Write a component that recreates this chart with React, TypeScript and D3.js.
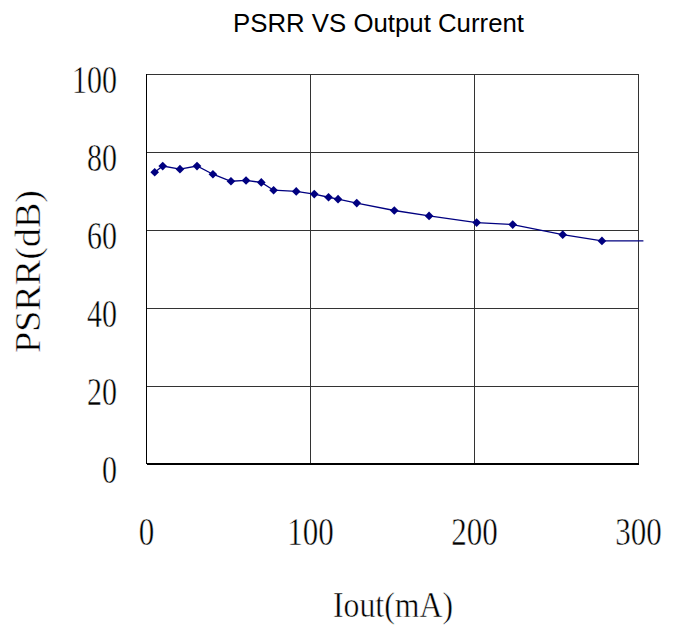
import React from 'react';
import * as d3 from 'd3';

// measured points (Iout in mA, PSRR in dB); the last one is the trace end, drawn without marker
const iout = [5, 9.9, 20.4, 30.8, 40.5, 51.5, 60.7, 70, 77.5, 91.3, 102.3, 111, 116.8, 128.2, 151.1, 172.3, 201.3, 223.3, 253.8, 277.7, 303];
const psrr = [74.8, 76.4, 75.6, 76.4, 74.3, 72.5, 72.7, 72.2, 70.2, 69.9, 69.2, 68.4, 67.9, 66.9, 65.0, 63.6, 61.9, 61.4, 58.8, 57.2, 57.2];
const xTicks = [0, 100, 200, 300];
const yTicks = [0, 20, 40, 60, 80, 100];

const title = 'PSRR VS Output Current';
const xTitle = 'Iout(mA)';
const yTitle = 'PSRR(dB)';

const W = 682;
const H = 627;

export default function App() {
    const x = d3.scaleLinear().domain([0, 300]).range([146.5, 638.5]);
    const y = d3.scaleLinear().domain([0, 100]).range([464, 74]);

    const pts = iout.map((v, i) => ({ x: v, y: psrr[i] }));
    const line = d3
        .line<{ x: number; y: number }>()
        .x((d) => x(d.x))
        .y((d) => y(d.y));

    const serif = '"Liberation Serif", "DejaVu Serif", serif';
    const digitW = 15;
    // thin the glyphs a little, the original font is lighter
    const thin = { stroke: '#fff', strokeWidth: 0.5 };
    const marker = d3.symbol(d3.symbolDiamond2 ?? d3.symbolDiamond, 48)() ?? '';

    return (
        <svg width={W} height={H} style={{ position: 'absolute', left: 0, top: 0 }}>
            <rect width={W} height={H} fill="#fff" />
            <text
                x={378.5}
                y={31.5}
                textAnchor="middle"
                fontFamily='"Liberation Sans", Arial, sans-serif'
                fontSize={25}
                textLength={291}
                lengthAdjust="spacingAndGlyphs"
                fill="#000"
            >
                {title}
            </text>

            {/* grid */}
            <g shapeRendering="crispEdges">
                {yTicks.filter((t) => t > 0).map((t) => (
                    <line key={'h' + t} x1={x(0)} x2={x(300)} y1={y(t)} y2={y(t)} stroke="#333" strokeWidth={1} />
                ))}
                {xTicks.filter((t) => t > 0).map((t) => (
                    <line key={'v' + t} x1={x(t)} x2={x(t)} y1={y(0)} y2={y(100)} stroke="#333" strokeWidth={1} />
                ))}
                <line x1={x(0)} x2={x(0)} y1={y(0)} y2={y(100)} stroke="#000" strokeWidth={1.5} />
                <line x1={x(0)} x2={x(300)} y1={y(0)} y2={y(0)} stroke="#000" strokeWidth={1.5} />
            </g>

            {/* y tick labels */}
            {yTicks.map((t) => (
                <text
                    key={'yl' + t}
                    x={117}
                    y={y(t) + 19}
                    textAnchor="end"
                    fontFamily={serif}
                    fontSize={40}
                    textLength={String(t).length * digitW}
                    lengthAdjust="spacingAndGlyphs"
                    fill="#000"
                    {...thin}
                >
                    {t}
                </text>
            ))}

            {/* x tick labels */}
            {xTicks.map((t) => (
                <text
                    key={'xl' + t}
                    x={x(t)}
                    y={545}
                    textAnchor="middle"
                    fontFamily={serif}
                    fontSize={40}
                    textLength={String(t).length * 15.5}
                    lengthAdjust="spacingAndGlyphs"
                    fill="#000"
                    {...thin}
                >
                    {t}
                </text>
            ))}

            <text
                x={393}
                y={617}
                textAnchor="middle"
                fontFamily={serif}
                fontSize={36}
                textLength={120}
                lengthAdjust="spacingAndGlyphs"
                fill="#000"
                {...thin}
            >
                {xTitle}
            </text>
            <text
                transform="translate(40,271.5) rotate(-90)"
                textAnchor="middle"
                fontFamily={serif}
                fontSize={35}
                textLength={163}
                lengthAdjust="spacingAndGlyphs"
                fill="#000"
                {...thin}
            >
                {yTitle}
            </text>

            {/* series */}
            <path d={line(pts) ?? ''} fill="none" stroke="#000080" strokeWidth={1.3} />
            {pts.slice(0, -1).map((p, i) => (
                <path
                    key={'m' + i}
                    d={marker}
                    transform={`translate(${x(p.x)},${y(p.y)})`}
                    fill="#000080"
                />
            ))}
        </svg>
    );
}
